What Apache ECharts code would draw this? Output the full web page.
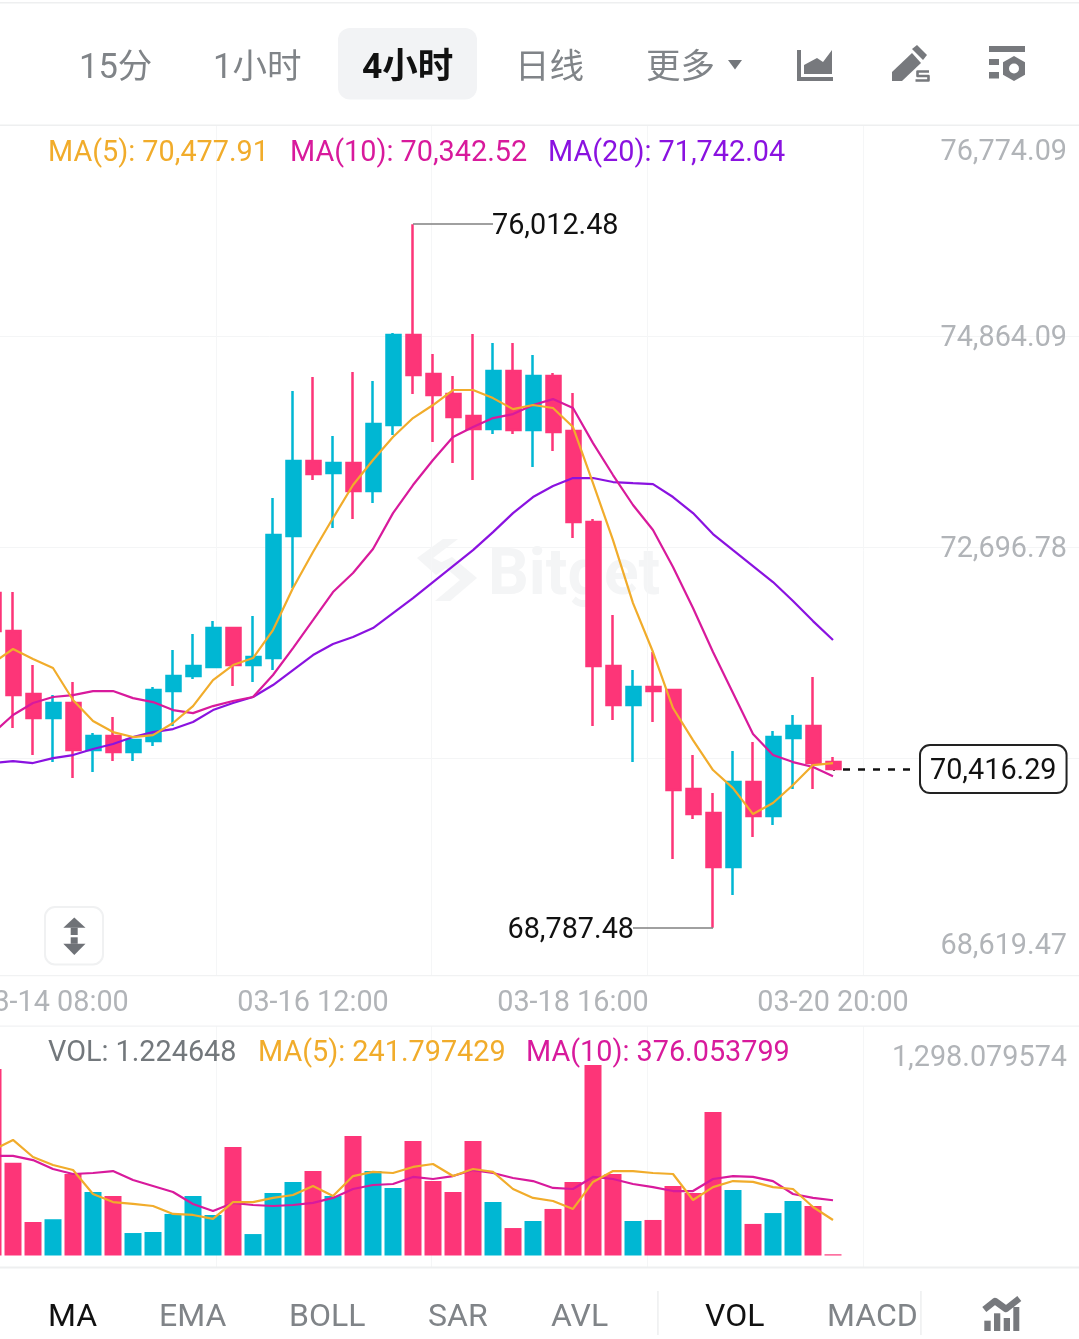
<!DOCTYPE html>
<html><head><meta charset="utf-8">
<style>html,body{margin:0;padding:0;background:#fff}#c{width:1079px;height:1339px}</style>
<script src="https://cdn.jsdelivr.net/npm/echarts@6/dist/echarts.min.js"></script>
</head><body><div id="c"></div>
<script>
const categories = ['03-13 20:00','03-14 00:00','03-14 04:00','03-14 08:00','03-14 12:00','03-14 16:00','03-14 20:00','03-15 00:00','03-15 04:00','03-15 08:00','03-15 12:00','03-15 16:00','03-15 20:00','03-16 00:00','03-16 04:00','03-16 08:00','03-16 12:00','03-16 16:00','03-16 20:00','03-17 00:00','03-17 04:00','03-17 08:00','03-17 12:00','03-17 16:00','03-17 20:00','03-18 00:00','03-18 04:00','03-18 08:00','03-18 12:00','03-18 16:00','03-18 20:00','03-19 00:00','03-19 04:00','03-19 08:00','03-19 12:00','03-19 16:00','03-19 20:00','03-20 00:00','03-20 04:00','03-20 08:00','03-20 12:00','03-20 16:00','03-20 20:00'];
const futureSlots = ['','','','','','','','','','','',''];
const opens = [72224,71834,71187,70940,71094,70611,70755,70591,70704,71217,71371,71464,71864,71484,71556,72809,73579,73456,73559,73271,73949,74873,74473,74268,74042,73908,74504,73898,74452,73888,72953,71474,71074,71258,71228,70211,69964,69410,70283,69934,70735,70858,70488];
const closes = [71834,71176,70940,71094,70611,70755,70591,70714,71228,71371,71474,71864,71484,71566,72819,73579,73446,73559,73271,73959,74873,74463,74257,74031,73908,74504,73898,74452,73877,72953,71474,71074,71258,71217,70201,69954,69410,70283,69934,70745,70858,70478,70416.29];
const highs = [72224,72234,71484,71176,71310,70786,70950,70714,71258,71638,71803,71936,71864,71988,73199,74298,74442,73836,74493,74401,74894,76012.48,74678,74452,74884,74791,74791,74668,74483,74278,72984,71998,71433,71618,71228,70560,70170,70601,70694,70807,70971,71361,70539];
const lows = [71834,70837,70560,70488,70324,70385,70498,70498,70652,70858,71341,71464,71269,71310,71433,72275,73384,72891,72984,73148,73846,74268,73775,73559,73384,73857,73857,73518,73682,72789,70858,70919,70488,70899,69492,69903,68787.48,69122,69718,69841,70211,70211,70416.29];
const ma5 = [71505,71649,71546,71454,71125,70909,70796,70745,70765,70889,71063,71330,71484,71556,71844,72275,72645,72994,73333,73590,73826,74021,74155,74309,74309,74226,74113,74155,74124,73929,73353,72768,72121,71618,71043,70714,70406,70221,69954,70067,70252,70457,70477.91];
const ma10 = [70786,70971,71094,71156,71176,71217,71217,71145,71104,71022,70991,71063,71115,71156,71382,71659,71946,72234,72429,72676,73045,73333,73590,73826,73929,74021,74062,74155,74216,74124,73764,73436,73128,72871,72491,72070,71618,71197,70776,70560,70488,70437,70342.52];
const ma20 = [70478,70498,70478,70529,70560,70622,70673,70745,70796,70827,70899,71022,71094,71156,71279,71433,71587,71700,71772,71864,72018,72172,72337,72501,72665,72850,73045,73210,73323,73405,73405,73364,73353,73343,73210,73045,72830,72665,72501,72337,72142,71936,71742.04];
const volumes = [1270,632,228,247,555,432,405,153,160,283,405,276,739,146,426,501,575,405,814,575,460,780,507,432,780,364,187,235,317,501,1298.079574,555,235,242,473,426,977,446,215,289,371,337,1.224648];
const volMa5 = [718,787,671,616,582,419,364,351,337,283,276,249,364,364,392,412,473,405,541,569,562,603,623,541,589,569,453,392,371,317,501,575,575,562,555,378,466,507,501,466,453,330,241.797429];
const volMa10 = [678,678,650,589,555,562,575,514,473,432,351,303,358,344,337,344,358,392,453,480,487,535,521,541,582,562,528,507,460,453,535,521,487,466,439,439,521,541,535,507,419,392,376.053799];
const priceLabels = [76774.09,74864.09,72696.78,68619.47];
const priceGrid = [74864.09,72696.78,70529.47];
const volLabels = [1298.079574];
const tabs = ['15分','1小时','4小时','日线','更多'];
const indicators = ['MA','EMA','BOLL','SAR','AVL','VOL','MACD'];
const watermark = 'Bitget';

const PINK='#fd3578', TEAL='#00b7d3', ORANGE='#f1ac2b', MAGENTA='#d81a9c', PURPLE='#8a12e0';
const GRAY='#b1b4b8', FONT='Roboto, "Noto Sans CJK SC", sans-serif';
const fmt=(v,d)=>Number(v).toLocaleString('en-US',{minimumFractionDigits:d,maximumFractionDigits:d});
const last=a=>a[a.length-1];
const hiIdx=highs.indexOf(Math.max(...highs)), loIdx=lows.indexOf(Math.min(...lows)), endIdx=categories.length-1;
const axisSlots=categories.concat(futureSlots);

function txt(x,y,text,fill,size,extra){return {type:'text',silent:true,z:extra&&extra.z!==undefined?extra.z:5,style:{x,y:y+3,text,fill,font:(extra&&extra.weight||'normal')+' '+size+'px '+FONT,textAlign:extra&&extra.align||'left',textVerticalAlign:'middle',verticalAlign:'middle'}};}
function rect(x,y,w,h,fill,r,stroke,lw){return {type:'rect',silent:true,z:4,shape:{x,y,width:w,height:h,r:r||0},style:{fill:fill,stroke:stroke||null,lineWidth:lw||0}};}
function poly(pts,fill,z){return {type:'polygon',silent:true,z:z===undefined?5:z,shape:{points:pts},style:{fill}};}
function pl(pts,stroke,lw){return {type:'polyline',silent:true,z:5,shape:{points:pts},style:{stroke,lineWidth:lw,fill:null,lineJoin:'round'}};}
const ICON='#77797d';
const graphics=[
 rect(0,2,1079,1.5,'#eeeff0'), rect(0,124.5,1079,1.5,'#eeeff0'), rect(0,975,1079,1.2,'#f1f2f3'),
 rect(0,1025.5,1079,1.2,'#f1f2f3'), rect(0,1266.5,1079,2,'#eeeff0'),
 rect(338,28,139,71.5,'#f2f3f5',12),
 txt(79,66,tabs[0],'#808488',34.5), txt(213,66,tabs[1],'#808488',34.5), txt(362,66,tabs[2],'#111',35.5,{weight:'bold'}),
 txt(515,66,tabs[3],'#808488',34.5), txt(646,66,tabs[4],'#808488',34.5),
 poly([[728,60],[742,60],[735,69.5]],'#73767b'),
 rect(797,50,4,31,ICON), rect(797,77,36,4,ICON), poly([[804,74],[804,65],[817,58],[823,62],[832,50],[832,74]],ICON),
 poly([[892,81],[892,72],[912,53],[921,63],[902,81]],ICON), poly([[917,45],[927,55],[923,60],[912,49]],ICON),
 pl([[929,71.5],[917.5,71.5],[917.5,76],[928.5,76],[928.5,80.5],[915.5,80.5]],ICON,2.6),
 rect(989,46,36,6,ICON), rect(989,59,10,6,ICON), rect(989,72,10,6.5,ICON),
 poly([[1014,56],[1025,62.3],[1025,74.7],[1014,81],[1003,74.7],[1003,62.3]],ICON),
 {type:'circle',silent:true,z:6,shape:{cx:1014,cy:68.5,r:5},style:{fill:'#fff'}},
 txt(48,151,'MA(5): '+fmt(last(ma5),2),ORANGE,28.8), txt(290,151,'MA(10): '+fmt(last(ma10),2),MAGENTA,28.8), txt(548,151,'MA(20): '+fmt(last(ma20),2),PURPLE,28.8),
 txt(48,1051,'VOL: '+fmt(last(volumes),6),'#73787c',28.8), txt(258,1051,'MA(5): '+fmt(last(volMa5),6),ORANGE,28.8), txt(526,1051,'MA(10): '+fmt(last(volMa10),6),MAGENTA,28.8),
 txt(488,575,watermark,'#f4f5f6',64,{weight:'bold',z:0}),
 poly([[417,558],[443,539],[458,539],[433,558],[449,566],[436,575]],'#f4f5f6',0),
 poly([[440,563],[452,557],[477,578],[450,601],[435,601],[460,580]],'#f4f5f6',0),
 rect(45,907,58,57.5,'#fff',10,'#f0f1f2',2),
 poly([[74.3,917.5],[85.5,927.7],[63.3,927.7]],'#6f7277'), rect(70.7,927.7,7,7.3,'#6f7277'),
 rect(70.7,937.3,7,6.5,'#6f7277'), poly([[63.3,943.7],[85.5,943.7],[74.3,955]],'#6f7277'),
 txt(48,1315,indicators[0],'#111',32), txt(159,1315,indicators[1],'#808488',32), txt(289,1315,indicators[2],'#808488',32),
 txt(428,1315,indicators[3],'#808488',32), txt(551,1315,indicators[4],'#808488',32),
 rect(657,1291,1.8,44,'#f0f1f2'),
 txt(705,1315,indicators[5],'#111',32), txt(827,1315,indicators[6],'#808488',32),
 rect(920,1291,1.8,44,'#f0f1f2'),
 rect(984.3,1320.7,6.4,10.3,ICON), rect(994,1313.3,6.3,17.7,ICON), rect(1003.7,1318,6.3,13,ICON), rect(1013.3,1307,6,24,ICON),
 pl([[984.3,1309.5],[995,1301],[1006,1309],[1019.3,1298.5]],ICON,6.5)
];

const vLines=[215.8,431.6,647.4,863.2];
const vAxis=(gridIndex)=>({type:'value',gridIndex,position:'top',min:-17,max:1083,axisLine:{show:false},axisLabel:{show:false},
  axisTick:{show:false,customValues:vLines},splitLine:{show:true,lineStyle:{color:'#f5f6f7',width:1}}});
const lineS=(name,data,color,x,y,z)=>({name,type:'line',data,xAxisIndex:x,yAxisIndex:y,symbol:'none',showSymbol:false,silent:true,z:z||3,
  lineStyle:{color,width:2.2},itemStyle:{color},connectNulls:false});
const leader=(i,j,v)=>[{coord:[i,v],label:{formatter:fmt(v,2)}},{coord:[j,v]}];

const chart=echarts.init(document.getElementById('c'),null,{renderer:'canvas',width:1079,height:1339});
chart.setOption({
 animation:false,backgroundColor:'#fff',graphic:{elements:graphics},
 grid:[{left:-17,top:126,width:1100,height:849,outerBoundsMode:'none',containLabel:false},{left:-17,top:1026,width:1100,height:241,outerBoundsMode:'none',containLabel:false}],
 xAxis:[
  {type:'category',gridIndex:0,data:axisSlots,boundaryGap:true,position:'bottom',axisLine:{show:false},axisTick:{show:false},splitLine:{show:false},
   axisLabel:{show:true,interval:(i)=>i>=3&&i<=endIdx&&(i-3)%13===0,color:GRAY,fontSize:28.8,fontFamily:FONT,margin:14,hideOverlap:false}},
  vAxis(0),
  {type:'category',gridIndex:1,data:axisSlots,boundaryGap:true,axisLine:{show:false},axisTick:{show:false},axisLabel:{show:false},splitLine:{show:false}},
  vAxis(1)
 ],
 yAxis:[
  {type:'value',gridIndex:0,position:'right',min:68301.09,max:77020.58,axisLine:{show:false},axisTick:{show:false,customValues:priceGrid},
   splitLine:{show:true,lineStyle:{color:'#f4f5f6',width:1}},
   axisLabel:{inside:true,margin:16,customValues:priceLabels,formatter:v=>fmt(v,2),color:GRAY,fontSize:28.8,fontFamily:FONT,verticalAlign:'top',lineHeight:6}},
  {type:'value',gridIndex:1,position:'right',min:-78.3,max:1562.9,axisLine:{show:false},axisTick:{show:false},splitLine:{show:false},
   axisLabel:{inside:true,margin:16,customValues:volLabels,formatter:v=>fmt(v,6),color:GRAY,fontSize:28.8,fontFamily:FONT,verticalAlign:'bottom',lineHeight:12}}
 ],
 series:[
  {name:'Last',type:'line',data:categories.map((c,i)=>i===endIdx?closes[i]:null),symbol:'none',showSymbol:false,xAxisIndex:0,yAxisIndex:0,z:1,silent:true,
   markLine:{silent:true,symbol:'none',animation:false,z:1,lineStyle:{color:'#111',type:[7,8],dashOffset:5,width:2.6},
    label:{position:'end',distance:8,backgroundColor:'#fff',borderColor:'#222',borderWidth:2,borderRadius:9,padding:[9,9,9,9],
     rich:{tag:{color:'#111',fontSize:28.8,fontFamily:FONT,lineHeight:28,padding:[6,0,0,0]}}},
    data:[[{coord:[endIdx,last(closes)],label:{formatter:'{tag|'+fmt(last(closes),2)+'}'}},{coord:[endIdx+4,last(closes)]}]]}},
  {name:'K',type:'candlestick',xAxisIndex:0,yAxisIndex:0,z:2,silent:true,barWidth:14.5,
   data:categories.map((c,i)=>[opens[i],closes[i],lows[i],highs[i]]),
   itemStyle:{color:TEAL,color0:PINK,borderColor:TEAL,borderColor0:PINK,borderWidth:2.5},
   markLine:{silent:true,symbol:'none',animation:false,lineStyle:{color:'#808080',type:'solid',width:1.5},
    label:{position:'end',distance:-1,color:'#111',fontSize:28.8,fontFamily:FONT,verticalAlign:'top',lineHeight:6},
    data:[leader(hiIdx,hiIdx+4,highs[hiIdx]),leader(loIdx,loIdx-4,lows[loIdx])]}},
  lineS('MA20',ma20,PURPLE,0,0,3), lineS('MA10',ma10,MAGENTA,0,0,4), lineS('MA5',ma5,ORANGE,0,0,5),
  {name:'VOL',type:'bar',xAxisIndex:2,yAxisIndex:1,barWidth:17,barMinHeight:1.2,silent:true,z:2,
   data:volumes.map((v,i)=>({value:v,itemStyle:{color:closes[i]>=opens[i]?TEAL:PINK}}))},
  lineS('VMA10',volMa10,MAGENTA,2,1,4), lineS('VMA5',volMa5,ORANGE,2,1,5)
 ]
});
</script></body></html>
